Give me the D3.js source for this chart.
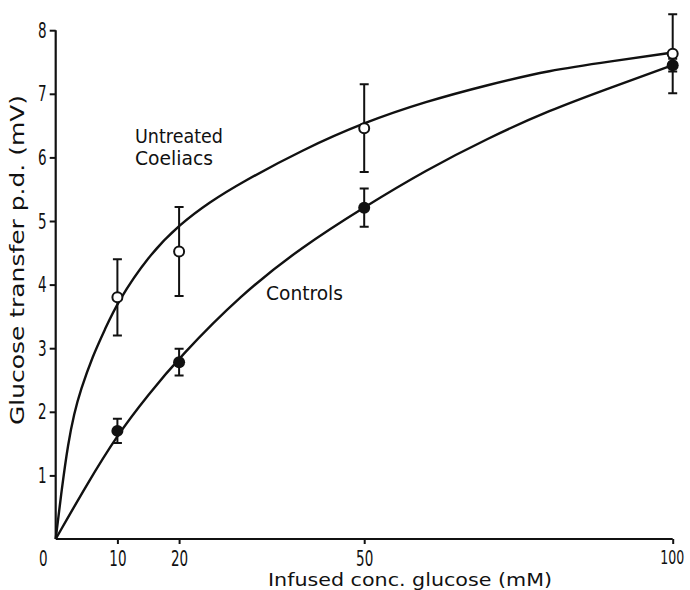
<!DOCTYPE html>
<html><head><meta charset="utf-8">
<script src="https://cdn.jsdelivr.net/npm/d3@7"></script>
<style>
html,body{margin:0;padding:0;background:#fff;}
text{font-family:"DejaVu Sans","Liberation Sans",sans-serif;fill:#111;}
</style></head>
<body><svg id="chart" width="690" height="590"></svg>
<script>
// ---- data ----
const conc = [10, 20, 50, 100];                 // infused glucose (mM)
const coeliacMean = [3.8, 4.52, 6.46, 7.63];    // Untreated coeliacs (mV)
const coeliacSE   = [0.6, 0.7, 0.69, 0.62];
const controlMean = [1.7, 2.78, 5.21, 7.45];    // Controls (mV)
const controlSE   = [0.19, 0.21, 0.3, 0.1];
// fitted curves
const coeliacCurveX = [0, 1, 2, 3, 4, 6, 8, 10, 15, 20, 25, 30, 40, 50, 60, 70, 80, 90, 100];
const coeliacCurveY = [0, 0.8, 1.5, 1.98, 2.33, 2.88, 3.3, 3.72, 4.45, 4.94, 5.3, 5.6, 6.12, 6.55, 6.88, 7.14, 7.37, 7.51, 7.65];
const controlCurveX = [0, 5, 10, 15, 20, 30, 40, 50, 60, 70, 80, 90, 100];
const controlCurveY = [0, 0.85, 1.64, 2.27, 2.85, 3.84, 4.6, 5.22, 5.8, 6.3, 6.74, 7.1, 7.45];
const xTicks = [0, 10, 20, 50, 100];
const yTicks = [1, 2, 3, 4, 5, 6, 7, 8];
const xTitle = "Infused conc. glucose (mM)";
const yTitle = "Glucose  transfer  p.d.  (mV)";

const svg = d3.select("#chart");
const x = d3.scaleLinear().domain([0, 100]).range([55.7, 672.7]);
const y = d3.scaleLinear().domain([0, 8]).range([539, 30.2]);

// axes
const xAxis = svg.append("g").attr("transform", `translate(0,${y(0)})`)
  .call(d3.axisBottom(x).tickValues(xTicks).tickSize(5).tickPadding(6).tickFormat(d3.format("d")));
const yAxis = svg.append("g").attr("transform", `translate(${x(0)},0)`)
  .call(d3.axisLeft(y).tickValues(yTicks).tickSize(6).tickPadding(3).tickFormat(d3.format("d")));
[xAxis, yAxis].forEach(g => {
  g.attr("font-size", 22).attr("font-family", '"DejaVu Sans",sans-serif');
  g.select(".domain").attr("stroke", "#111").attr("stroke-width", 2.2);
  g.selectAll(".tick line").attr("stroke", "#111").attr("stroke-width", 2);
  g.selectAll(".tick text").attr("fill", "#111")
    .attr("textLength", d => String(d).length * 8.6).attr("lengthAdjust", "spacingAndGlyphs");
});
xAxis.select(".domain").attr("d", `M${x(0)},0H${x(100)}`);
yAxis.select(".domain").attr("d", `M0,${y(0)}V${y(8)}`);
xAxis.selectAll(".tick").filter(d => d === 0).select("line").remove();
xAxis.selectAll(".tick").filter(d => d === 0).select("text").attr("dx", -13);
xAxis.selectAll(".tick").filter(d => d === 100).select("text")
  .attr("font-size", 20).attr("text-anchor", "end").attr("dx", 11).attr("textLength", 24);

// curves
const line = d3.line().x(d => x(d[0])).y(d => y(d[1])).curve(d3.curveBasis);
const coeliacCurve = coeliacCurveX.map((v, i) => [v, coeliacCurveY[i]]);
const controlCurve = controlCurveX.map((v, i) => [v, controlCurveY[i]]);
[coeliacCurve, controlCurve].forEach(c => {
  svg.append("path").datum(c).attr("d", line)
    .attr("fill", "none").attr("stroke", "#111").attr("stroke-width", 2.4);
});

// error bars + points
function series(means, se) {
  const data = conc.map((c, i) => ({c, m: means[i], s: se[i]}));
  const g = svg.append("g");
  const cap = 4.5;
  g.selectAll("path.err").data(data).join("path")
    .attr("d", d => {
      const cx = x(d.c), y1 = y(d.m + d.s), y2 = y(d.m - d.s);
      return `M${cx},${y1}V${y2}M${cx - cap},${y1}H${cx + cap}M${cx - cap},${y2}H${cx + cap}`;
    })
    .attr("stroke", "#111").attr("stroke-width", 2).attr("fill", "none");
  return {g, data};
}
const cs = series(controlMean, controlSE);
const us = series(coeliacMean, coeliacSE);
cs.g.selectAll("circle").data(cs.data).join("circle")
  .attr("cx", d => x(d.c)).attr("cy", d => y(d.m)).attr("r", 6).attr("fill", "#111");
us.g.selectAll("circle").data(us.data).join("circle")
  .attr("cx", d => x(d.c)).attr("cy", d => y(d.m)).attr("r", 5)
  .attr("fill", "#fff").attr("stroke", "#111").attr("stroke-width", 2);

// series labels
const lab = (t, px, py, w) => svg.append("text").attr("x", px).attr("y", py)
  .attr("font-size", 20).attr("textLength", w).attr("lengthAdjust", "spacingAndGlyphs").text(t);
lab("Untreated", 135, 143, 88);
lab("Coeliacs", 135, 165, 78);
lab("Controls", 266, 300, 77);

// axis titles
svg.append("text").attr("x", 410).attr("y", 586).attr("text-anchor", "middle")
  .attr("font-size", 18).attr("textLength", 284).attr("lengthAdjust", "spacingAndGlyphs").text(xTitle);
svg.append("text").attr("transform", "translate(24,260) rotate(-90)").attr("text-anchor", "middle")
  .attr("font-size", 19).attr("textLength", 330).attr("lengthAdjust", "spacingAndGlyphs").text(yTitle);
</script></body></html>
